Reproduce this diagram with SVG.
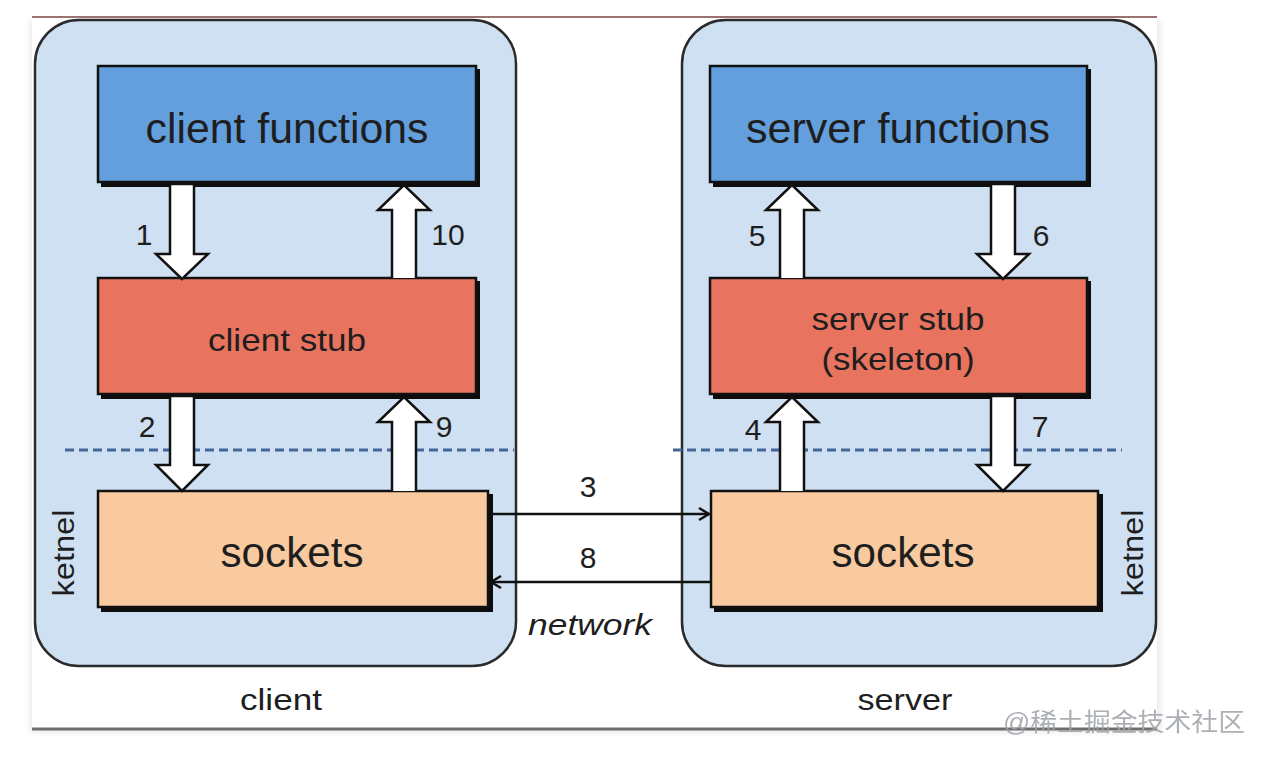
<svg xmlns="http://www.w3.org/2000/svg" width="1263" height="758" viewBox="0 0 1263 758">
<defs>
<filter id="soft" x="-5%" y="-5%" width="110%" height="110%"><feGaussianBlur stdDeviation="3"/></filter>
<marker id="chev" viewBox="0 0 14 14" refX="12" refY="7" markerWidth="14" markerHeight="14" markerUnits="userSpaceOnUse" orient="auto">
<path d="M2,1 L12,7 L2,13" fill="none" stroke="#111" stroke-width="2.4"/>
</marker>
<style>
text{font-family:"Liberation Sans",Arial,sans-serif;fill:#1e1e1e}
.cont{fill:#cfe0f2;stroke:#2a2a2a;stroke-width:2.5}
.shadow{fill:#0d0d0d}
.box{stroke:#111;stroke-width:2.5}
.fn{fill:#649fdd}
.stub{fill:#e8735f}
.sock{fill:#f9caa0}
.blk{fill:#fff;stroke:#111;stroke-width:2.5;stroke-linejoin:miter}
.dash{stroke:#44679a;stroke-width:3;stroke-dasharray:9 5;fill:none}
.net{stroke:#111;stroke-width:2.6;fill:none}
.num{font-size:30px;text-anchor:middle}
.big{font-size:42px;text-anchor:middle}
.mid{font-size:32px;text-anchor:middle}
.lbl{font-size:30px;text-anchor:middle}
.side{font-size:30px;text-anchor:middle}
</style>
</defs>
<rect x="0" y="0" width="1263" height="758" fill="#ffffff"/>
<g id="panel">
<rect x="30" y="20" width="1130" height="712" fill="#d8d8d8" filter="url(#soft)" opacity="0.6"/>
<rect x="32" y="17" width="1125" height="711" fill="#ffffff"/>
<line x1="32" y1="17" x2="1157" y2="17" stroke="#7a4545" stroke-width="1.5"/>
<line x1="32" y1="729" x2="1157" y2="729" stroke="#6e6e6e" stroke-width="3"/>
</g>
<g id="client-container">
<rect class="cont" x="35" y="20" width="481" height="646" rx="44"/>
<text class="side" x="74" y="553" textLength="87" lengthAdjust="spacingAndGlyphs" transform="rotate(-90 74 553)">ketnel</text>
<text class="lbl" x="281" y="710" textLength="82" lengthAdjust="spacingAndGlyphs">client</text>
</g>
<g id="server-container">
<rect class="cont" x="682" y="20" width="474" height="646" rx="44"/>
<text class="side" x="1143" y="553" textLength="87" lengthAdjust="spacingAndGlyphs" transform="rotate(-90 1143 553)">ketnel</text>
<text class="lbl" x="905" y="710" textLength="95" lengthAdjust="spacingAndGlyphs">server</text>
</g>
<g id="dashes">
<line class="dash" x1="65" y1="450" x2="514" y2="450"/>
<line class="dash" x1="673" y1="450" x2="1122" y2="450"/>
</g>
<g id="client-functions">
<rect class="shadow" x="101" y="69" width="379" height="118"/>
<rect class="box fn" x="98" y="66" width="378" height="116"/>
<text class="big" x="287" y="143" textLength="283" lengthAdjust="spacingAndGlyphs">client functions</text>
</g>
<g id="client-stub">
<rect class="shadow" x="101" y="281" width="379" height="118"/>
<rect class="box stub" x="98" y="278" width="378" height="116"/>
<text class="mid" x="287" y="351" textLength="158" lengthAdjust="spacingAndGlyphs">client stub</text>
</g>
<g id="client-sockets">
<rect class="shadow" x="101" y="494" width="392" height="118"/>
<rect class="box sock" x="98" y="491" width="390" height="116"/>
<text class="big" x="292" y="567" textLength="143" lengthAdjust="spacingAndGlyphs">sockets</text>
</g>
<g id="server-functions">
<rect class="shadow" x="713" y="69" width="378" height="118"/>
<rect class="box fn" x="710" y="66" width="377" height="116"/>
<text class="big" x="898" y="143" textLength="304" lengthAdjust="spacingAndGlyphs">server functions</text>
</g>
<g id="server-stub">
<rect class="shadow" x="713" y="281" width="378" height="118"/>
<rect class="box stub" x="710" y="278" width="377" height="116"/>
<text class="mid" x="898" y="330" textLength="173" lengthAdjust="spacingAndGlyphs">server stub</text>
<text class="mid" x="898" y="370" textLength="153" lengthAdjust="spacingAndGlyphs">(skeleton)</text>
</g>
<g id="server-sockets">
<rect class="shadow" x="714" y="494" width="389" height="118"/>
<rect class="box sock" x="711" y="491" width="387" height="116"/>
<text class="big" x="903" y="567" textLength="143" lengthAdjust="spacingAndGlyphs">sockets</text>
</g>
<g id="connectors">
<path class="blk" d="M170,184 L194,184 L194,254 L208,254 L182,279 L156,254 L170,254 Z"/>
<path class="blk" d="M392,278 L392,210 L378,210 L404,185 L430,210 L416,210 L416,278"/>
<path class="blk" d="M170,396 L194,396 L194,465 L208,465 L182,491 L156,465 L170,465 Z"/>
<path class="blk" d="M392,491 L392,422 L378,422 L404,397 L430,422 L416,422 L416,491"/>
<path class="blk" d="M780,278 L780,210 L766,210 L792,185 L818,210 L804,210 L804,278"/>
<path class="blk" d="M991,184 L1015,184 L1015,254 L1029,254 L1003,279 L977,254 L991,254 Z"/>
<path class="blk" d="M780,491 L780,422 L766,422 L792,397 L818,422 L804,422 L804,491"/>
<path class="blk" d="M991,396 L1015,396 L1015,465 L1029,465 L1003,491 L977,465 L991,465 Z"/>
<line class="net" x1="492" y1="514" x2="709" y2="514" marker-end="url(#chev)"/>
<line class="net" x1="711" y1="582" x2="491" y2="582" marker-end="url(#chev)"/>
<text class="num" x="144" y="245">1</text>
<text class="num" x="448" y="245">10</text>
<text class="num" x="147" y="437">2</text>
<text class="num" x="444" y="437">9</text>
<text class="num" x="757" y="246">5</text>
<text class="num" x="1041" y="246">6</text>
<text class="num" x="753" y="440">4</text>
<text class="num" x="1040" y="437">7</text>
<text class="num" x="588" y="497">3</text>
<text class="num" x="588" y="568">8</text>
<text x="590" y="635" font-size="30" font-style="italic" text-anchor="middle" textLength="124" lengthAdjust="spacingAndGlyphs">network</text>
</g>
<text x="1124" y="731" font-size="25" text-anchor="middle" textLength="242" lengthAdjust="spacingAndGlyphs" style="font-family:'Liberation Sans','Noto Sans CJK SC',sans-serif;fill:#9ea3a8" opacity="0.85">@稀土掘金技术社区</text>
</svg>
